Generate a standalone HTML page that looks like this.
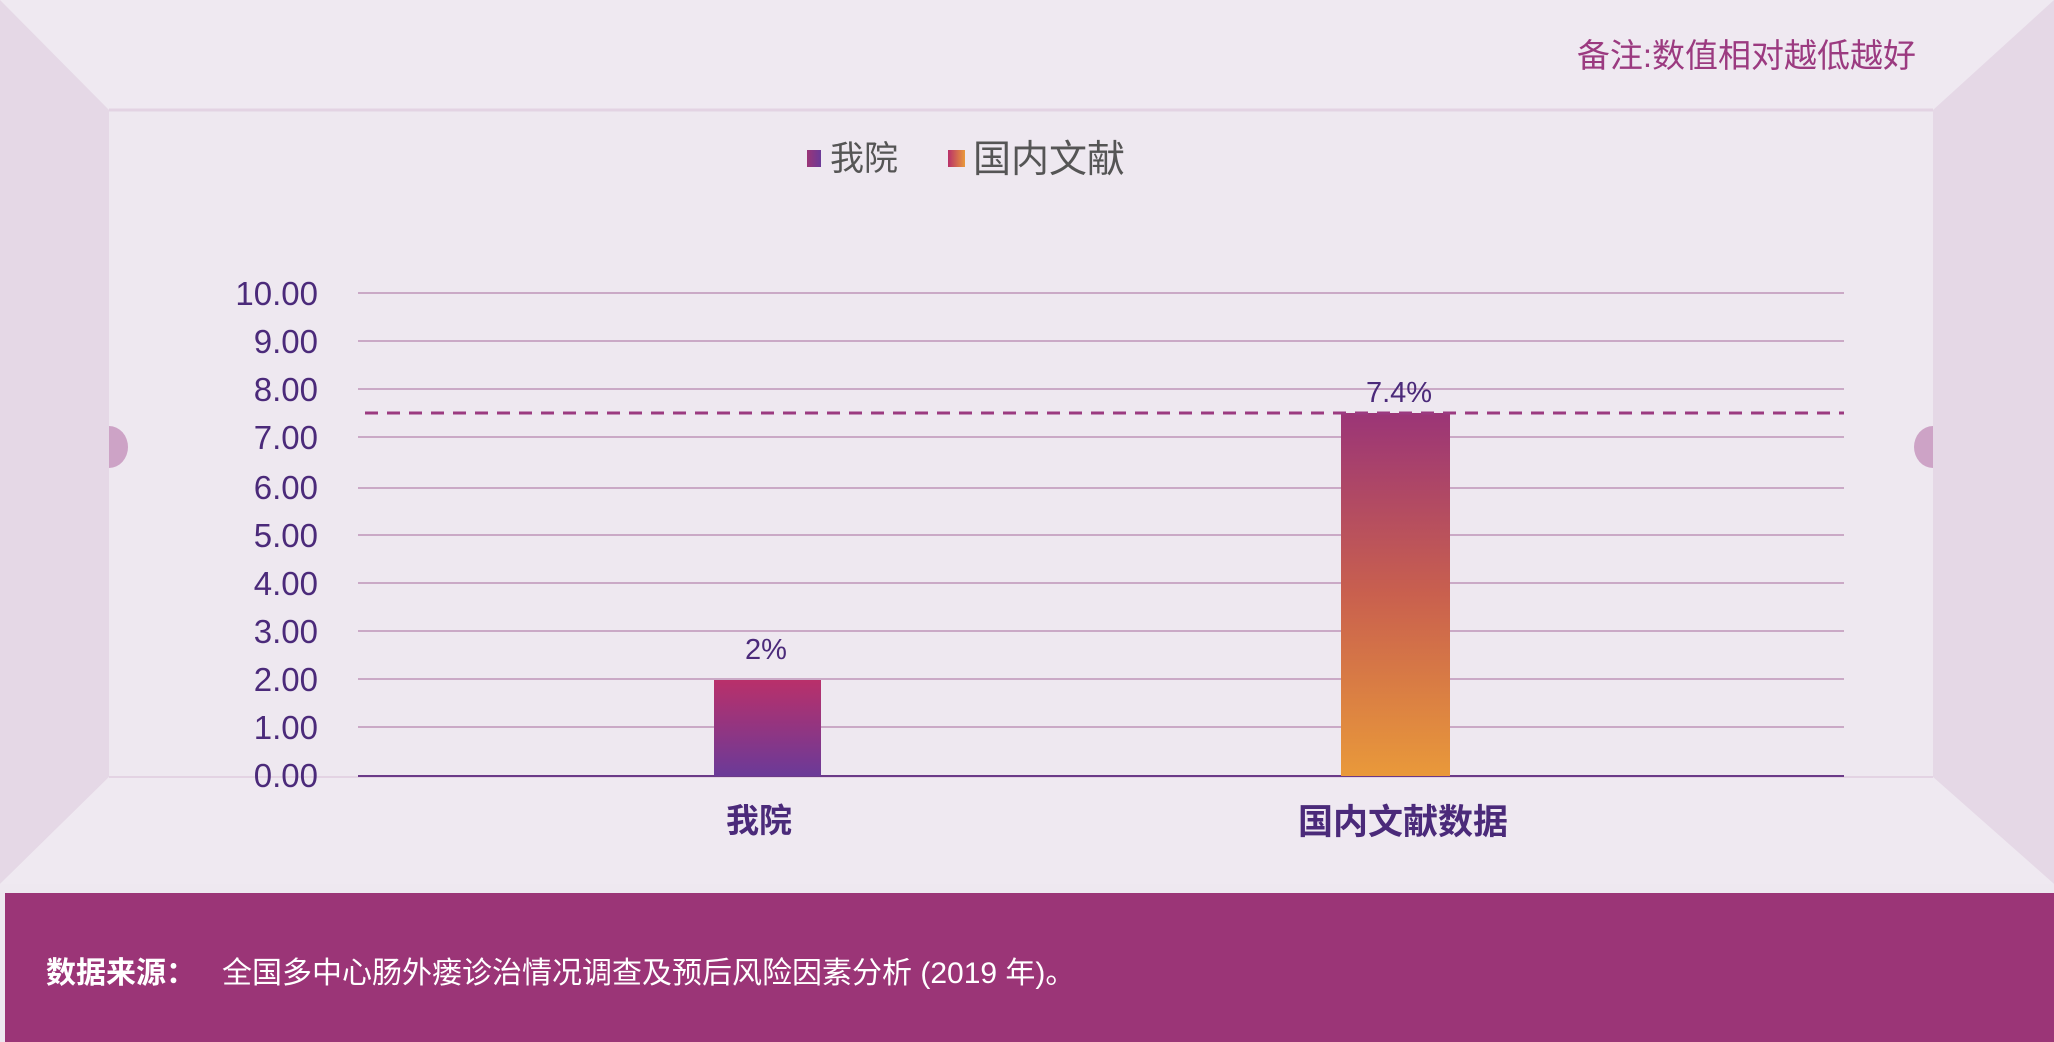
<!DOCTYPE html>
<html><head><meta charset="utf-8"><style>
html,body{margin:0;padding:0;background:#eee8f0;}
svg{display:block;}
text{font-family:"Liberation Sans","Noto Sans CJK SC",sans-serif;}
</style></head><body>
<svg width="2054" height="1042" viewBox="0 0 2054 1042" xmlns="http://www.w3.org/2000/svg">
<defs>
<linearGradient id="g1" x1="0" y1="0" x2="0" y2="1"><stop offset="0" stop-color="#b9306a"/><stop offset="1" stop-color="#6b3a98"/></linearGradient>
<linearGradient id="g2" x1="0" y1="0" x2="0" y2="1"><stop offset="0" stop-color="#9b3577"/><stop offset="0.5" stop-color="#c9604e"/><stop offset="1" stop-color="#e9993a"/></linearGradient>
<linearGradient id="l1" x1="0" y1="0" x2="1" y2="0"><stop offset="0" stop-color="#9b3577"/><stop offset="1" stop-color="#6b3a98"/></linearGradient>
<linearGradient id="l2" x1="0" y1="0" x2="1" y2="0"><stop offset="0" stop-color="#b9306a"/><stop offset="1" stop-color="#e9993a"/></linearGradient>
</defs>
<rect width="2054" height="1042" fill="#eee8f0"/>
<polygon points="0,0 2054,0 1933,110 109,110" fill="#efe9f1"/>
<polygon points="0,0 109,110 109,777 0,884" fill="#e5d8e6"/>
<polygon points="2054,0 1933,110 1933,777 2054,884" fill="#e5d8e6"/>
<polygon points="0,884 109,777 1933,777 2054,884" fill="#efe9f1"/>
<line x1="109" y1="110" x2="1933" y2="110" stroke="#e3d3e3" stroke-width="3"/>
<line x1="109" y1="777" x2="1933" y2="777" stroke="#e3d3e3" stroke-width="2"/>
<path d="M109,426 a19,21 0 0 1 0,42 z" fill="#cda3c6"/>
<path d="M1933,426 a19,21 0 0 0 0,42 z" fill="#cda3c6"/>
<text x="1916" y="67" text-anchor="end" font-size="33" fill="#9b3a80">备注:数值相对越低越好</text>
<rect x="807" y="150" width="14" height="17" fill="url(#l1)"/>
<text x="830" y="170" font-size="34" fill="#555">我院</text>
<rect x="948" y="150" width="17" height="17" fill="url(#l2)"/>
<text x="973" y="172" font-size="38" fill="#555">国内文献</text>
<g stroke="#a66a9c" stroke-width="1">
<line x1="358" y1="293" x2="1844" y2="293"/><line x1="358" y1="341" x2="1844" y2="341"/>
<line x1="358" y1="389" x2="1844" y2="389"/><line x1="358" y1="437" x2="1844" y2="437"/>
<line x1="358" y1="488" x2="1844" y2="488"/><line x1="358" y1="535" x2="1844" y2="535"/>
<line x1="358" y1="583" x2="1844" y2="583"/><line x1="358" y1="631" x2="1844" y2="631"/>
<line x1="358" y1="679" x2="1844" y2="679"/><line x1="358" y1="727" x2="1844" y2="727"/>
</g>
<line x1="358" y1="776" x2="1844" y2="776" stroke="#6b3a88" stroke-width="2"/>
<g font-size="33" fill="#4b2a7a" text-anchor="end">
<text x="318" y="305">10.00</text><text x="318" y="353">9.00</text><text x="318" y="401">8.00</text>
<text x="318" y="449">7.00</text><text x="318" y="499">6.00</text><text x="318" y="547">5.00</text>
<text x="318" y="595">4.00</text><text x="318" y="643">3.00</text><text x="318" y="691">2.00</text>
<text x="318" y="739">1.00</text><text x="318" y="787">0.00</text>
</g>
<rect x="714" y="680" width="107" height="96" fill="url(#g1)"/>
<rect x="1341" y="413" width="109" height="363" fill="url(#g2)"/>
<line x1="365" y1="413" x2="1844" y2="413" stroke="#9b3a80" stroke-width="3" stroke-dasharray="13,9"/>
<text x="766" y="659" text-anchor="middle" font-size="29" fill="#4b2a7a">2%</text>
<text x="1399" y="402" text-anchor="middle" font-size="29" fill="#4b2a7a">7.4%</text>
<text x="759" y="832" text-anchor="middle" font-size="33" font-weight="bold" fill="#4b2a7a">我院</text>
<text x="1403" y="834" text-anchor="middle" font-size="35" font-weight="bold" fill="#4b2a7a">国内文献数据</text>
<rect x="5" y="893" width="2049" height="149" fill="#9b3577"/>
<text x="46" y="983" font-size="30" font-weight="bold" fill="#fff">数据来源：</text>
<text x="222" y="983" font-size="30" fill="#fff">全国多中心肠外瘘诊治情况调查及预后风险因素分析 (2019 年)。</text>
</svg>
</body></html>
